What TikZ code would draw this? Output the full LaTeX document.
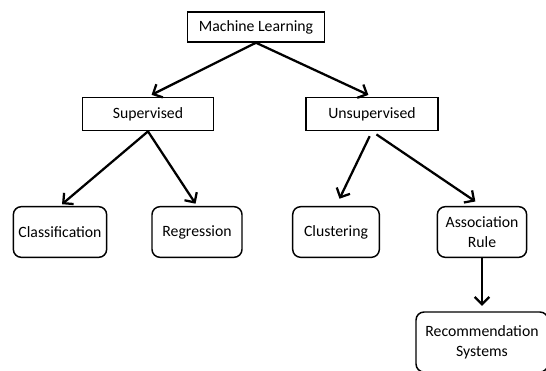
\documentclass[tikz,border=0pt]{standalone}
\usepackage{fontspec}
\setmainfont{Carlito}
\usetikzlibrary{arrows.meta}
\begin{document}
\begin{tikzpicture}[x=0.75pt, y=-0.75pt,
    sq/.style={draw, line width=1.1pt, font=\fontsize{11.8}{15}\selectfont, inner sep=0pt},
    rd/.style={sq, rounded corners=6pt, align=center},
    arr/.style={line width=1.7pt, -{Straight Barb[length=5.5pt, width=11pt]}}]
    \clip (0,0) rectangle (546,371);
    \useasboundingbox (0,0) rectangle (546,371);
    \node[sq, minimum width=103pt, minimum height=22.5pt] (ml) at (256,27) {Machine Learning};
    \node[sq, minimum width=98pt, minimum height=25pt] (sup) at (148,114) {Supervised};
    \node[sq, minimum width=99pt, minimum height=25pt] (uns) at (372,114) {Unsupervised};
    \node[rd, minimum width=70pt, minimum height=38pt] (cls) at (60,232) {Classification};
    \node[rd, minimum width=67.5pt, minimum height=38pt] (reg) at (197,232) {Regression};
    \node[rd, minimum width=65pt, minimum height=38pt] (clu) at (336,232) {Clustering};
    \node[rd, minimum width=67pt, minimum height=38pt] (asr) at (482,232) {Association\\Rule};
    \node[rd, minimum width=99pt, minimum height=45pt] (rec) at (482,342) {Recommendation\\Systems};
    \draw[arr, shorten >=3pt] (ml.south) -- (sup.north);
    \draw[arr, shorten >=3pt] (ml.south) -- (uns.north);
    \draw[arr, shorten >=2pt] (sup.south) -- (cls.north);
    \draw[arr, shorten >=2pt] (sup.south) -- (reg.north);
    \draw[arr, shorten <=4pt, shorten >=6pt] (uns.south) -- (clu.north);
    \draw[arr, shorten <=4pt, shorten >=6pt] (uns.south) -- (asr.north);
    \draw[arr, shorten >=4pt] (asr.south) -- (rec.north);
\end{tikzpicture}
\end{document}
